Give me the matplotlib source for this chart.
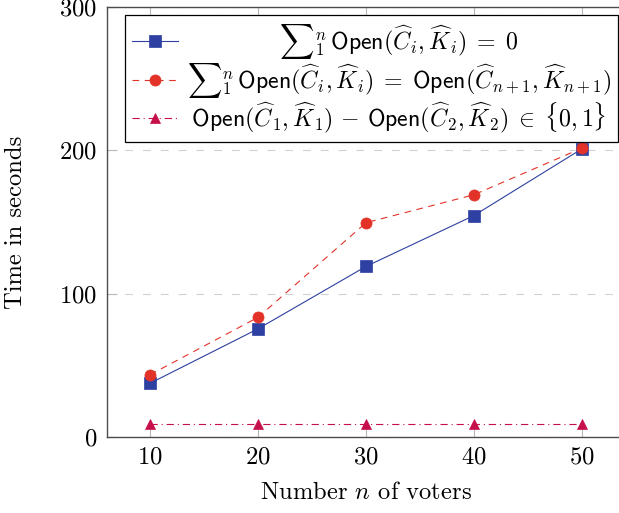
import matplotlib
matplotlib.use("Agg")
import matplotlib.pyplot as plt

plt.rcParams['mathtext.fontset'] = 'cm'
plt.rcParams['axes.formatter.use_mathtext'] = True

voters = [10, 20, 30, 40, 50]
sum_zero = [37.5, 75.5, 119, 154.5, 201]
sum_next = [43.5, 83.5, 149.5, 169, 201.5]
diff_01 = [9, 9, 9, 9, 9]

xticks = [10, 20, 30, 40, 50]
yticks = [0, 100, 200, 300]

labels = [
    r'${\sum}_1^n\,\mathsf{Open}(\widehat{C}_i,\widehat{K}_i)\;=\;0$',
    r'${\sum}_1^n\,\mathsf{Open}(\widehat{C}_i,\widehat{K}_i)\;=\;\mathsf{Open}(\widehat{C}_{n+1},\widehat{K}_{n+1})$',
    r'$\mathsf{Open}(\widehat{C}_1,\widehat{K}_1)\,-\,\mathsf{Open}(\widehat{C}_2,\widehat{K}_2)\;\in\;\{0,1\}$',
]

blue = (0.18, 0.25, 0.63)
red = (0.89, 0.20, 0.16)
purple = (0.78, 0.06, 0.29)
spine_c = (0.30, 0.30, 0.30)
tick_c = (0.72, 0.72, 0.72)
grid_c = (0.82, 0.82, 0.82)

W, H = 619, 513
fig = plt.figure(figsize=(W / 100, H / 100), dpi=100)
left_px, right_px, top_px, bot_px = 107, 625, 7, 437
ax = fig.add_axes([left_px / W, (H - bot_px) / H, (right_px - left_px) / W, (bot_px - top_px) / H])

ax.set_xlim(6, 54)
ax.set_ylim(0, 300)

ax.plot(voters, sum_zero, color=blue, lw=0.8, marker='s', ms=8.5, mfc=blue, mec=blue, mew=0.5,
        label=labels[0], zorder=4)
ax.plot(voters, sum_next, color=red, lw=0.8, dashes=(6, 5), marker='o', ms=8, mfc=red, mec=red, mew=0.5,
        label=labels[1], zorder=4)
ax.plot(voters, diff_01, color=purple, lw=0.8, dashes=(6.5, 3.5, 1, 3.5), marker='^', ms=6.5, mfc=purple,
        mec=purple, mew=0.5, label=labels[2], zorder=4)

ax.set_xticks(xticks)
ax.set_yticks(yticks)
ax.yaxis.grid(True, color=grid_c, lw=0.8, dashes=(7, 9))
ax.set_axisbelow(True)
fsl = 17.7
ax.tick_params(axis='both', direction='in', length=7.5, width=0.8, color=tick_c, labelsize=fsl,
               top=True, right=False, pad=7)
for lab in ax.get_xticklabels() + ax.get_yticklabels():
    lab.set_fontfamily('cmr10')

for s in ['left', 'bottom', 'top']:
    ax.spines[s].set_color(spine_c)
    ax.spines[s].set_linewidth(1.0)
ax.spines['right'].set_visible(False)

ax.set_ylabel('Time in seconds', fontsize=fsl, family='cmr10')
ax.yaxis.set_label_coords(-(left_px - 16) / (right_px - left_px), 0.5)
ax.yaxis.label.set_va('center')
ax.set_xlabel(r'Number $n$ of voters', fontsize=fsl, family='cmr10')
ax.xaxis.set_label_coords((366 - left_px) / (right_px - left_px), -(493 - bot_px) / (bot_px - top_px))
ax.xaxis.label.set_va('center')

fs = 17.2
leg = ax.legend(loc='upper left', bbox_to_anchor=((125 - left_px) / (right_px - left_px), 1 - (15 - top_px) / (bot_px - top_px)),
                fontsize=fs, frameon=True, fancybox=False, edgecolor='black', framealpha=1,
                handlelength=1.9, handletextpad=0.38, labelspacing=0.0, borderpad=0.3, borderaxespad=0)
leg.get_frame().set_linewidth(0.9)

fig.canvas.draw()
r = fig.canvas.get_renderer()
widths = [t.get_window_extent(r).width for t in leg.get_texts()]
p1 = fig.text(0, 0, r'$a\hspace{10}a$', fontsize=fs)
p2 = fig.text(0, 0, r'$aa$', fontsize=fs)
em = (p1.get_window_extent(r).width - p2.get_window_extent(r).width) / 10.0
p1.remove(); p2.remove()
wmax = max(widths)
for t, w, lab in zip(leg.get_texts(), widths, labels):
    pad = (wmax - w) / 2.0 / em
    if pad > 0.01:
        t.set_text(r'$\hspace{%.3f}' % pad + lab[1:-1] + r'\hspace{%.3f}$' % pad)

fig.savefig('out.png', dpi=100)
